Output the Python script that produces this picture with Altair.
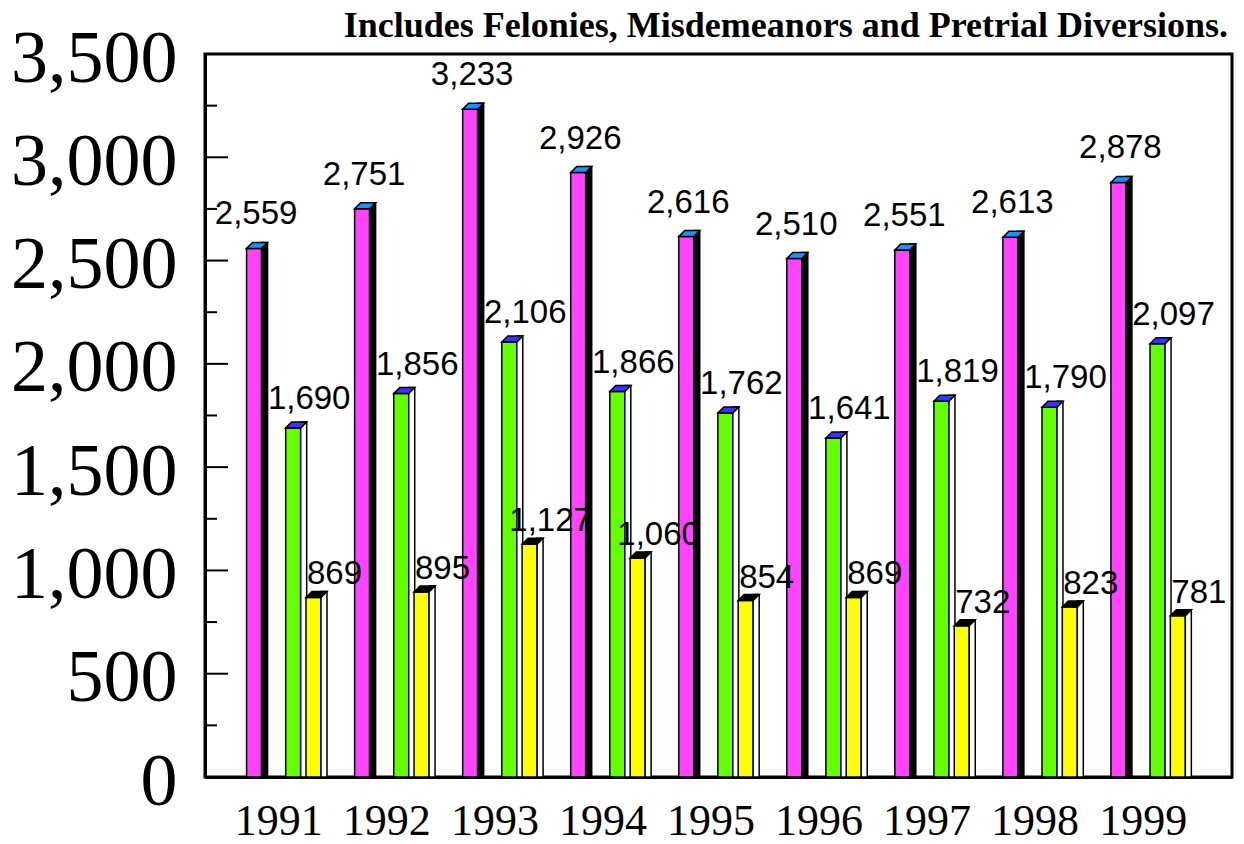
import altair as alt
import pandas as pd

title_text = ["Includes Felonies, Misdemeanors and Pretrial Diversions."]
years = ["1991", "1992", "1993", "1994", "1995", "1996", "1997", "1998", "1999"]
series = ["Series A", "Series B", "Series C"]
values_a = [2559, 2751, 3233, 2926, 2616, 2510, 2551, 2613, 2878]
values_b = [1690, 1856, 2106, 1866, 1762, 1641, 1819, 1790, 2097]
values_c = [869, 895, 1127, 1060, 854, 869, 732, 823, 781]
major_ticks = [500, 1000, 1500, 2000, 2500, 3000]
minor_ticks = [250, 750, 1250, 1750, 2250, 2750, 3250]
y_axis_values = [0, 500, 1000, 1500, 2000, 2500, 3000, 3500]

# styles
front_col = {"Series A": "#FF44FF", "Series B": "#66FF00", "Series C": "#FFFF00"}
top_col = {"Series A": "#1E90FF", "Series B": "#3535FF", "Series C": "#000000"}
side_col = {"Series A": "#000000", "Series B": "#FFFFFF", "Series C": "#FFFFFF"}
slot = {"Series A": -0.252, "Series B": 0.110, "Series C": 0.298}
lab_dx = {"Series A": 2, "Series B": 16, "Series C": 21}
lab_dy = {"Series A": -24, "Series B": -19, "Series C": -13}

rows = []
for s, vals in zip(series, [values_a, values_b, values_c]):
    for i, (y, v) in enumerate(zip(years, vals)):
        rows.append({"year": y, "idx": i, "series": s, "value": v})
df = pd.DataFrame(rows)
df["xpos"] = df["idx"] + df["series"].map(slot)

W, H = 1027, 723
xscale = alt.Scale(domain=[-0.660, 8.753], nice=False, zero=False)
yscale = alt.Scale(domain=[0, 3500], nice=False)

label_expr = "[" + ",".join("'%s'" % y for y in years) + "][datum.value]"
x_axis = alt.Axis(values=list(range(len(years))), labelExpr=label_expr, title=None,
                  ticks=False, tickSize=0, grid=False, labelFont="Liberation Serif",
                  labelFontSize=44, labelColor="black", labelBaseline="alphabetic",
                  labelPadding=57, labelOffset=-3, labelFlush=False, labelBound=False,
                  labelOverlap=False, domainColor="black", domainWidth=3)
y_axis = alt.Axis(values=y_axis_values, format=",d", title=None, ticks=False, tickSize=0,
                  grid=False, labelFont="Liberation Serif", labelFontSize=74,
                  labelColor="black", labelBaseline="alphabetic", labelOffset=27,
                  labelPadding=28, labelFlush=False, labelBound=False, labelOverlap=False,
                  domainColor="black", domainWidth=3)

base = alt.Chart(df)
layers = []
top_path = "M-0.75,0L-0.15,-0.6L1.35,-0.6L0.75,0Z"
for s in series:
    b = base.transform_filter(alt.datum.series == s)
    front = b.mark_bar(width=15, orient="vertical", fill=front_col[s], stroke="black",
                       strokeWidth=1.5).encode(
        x=alt.X("xpos:Q", scale=xscale, axis=x_axis),
        y=alt.Y("value:Q", scale=yscale, axis=y_axis, stack=None),
    )
    side = b.mark_bar(width=6, xOffset=10.5, yOffset=-6, orient="vertical",
                      fill=side_col[s], stroke="black", strokeWidth=1.5).encode(
        x=alt.X("xpos:Q", scale=xscale),
        y=alt.Y("value:Q", scale=yscale, stack=None),
    )
    top = b.mark_point(shape=top_path, size=400, filled=True, fill=top_col[s],
                       stroke="black", strokeWidth=1.5, opacity=1).encode(
        x=alt.X("xpos:Q", scale=xscale),
        y=alt.Y("value:Q", scale=yscale),
    )
    layers += [front, side, top]

for s in series:
    b = base.transform_filter(alt.datum.series == s)
    lab = b.mark_text(font="Liberation Sans", fontSize=33, color="black",
                      align="center", baseline="alphabetic",
                      dx=lab_dx[s], dy=lab_dy[s]).encode(
        x=alt.X("xpos:Q", scale=xscale),
        y=alt.Y("value:Q", scale=yscale),
        text=alt.Text("value:Q", format=",d"),
    )
    layers.append(lab)

ticks_major = alt.Chart(pd.DataFrame({"t": major_ticks})).mark_rule(
    color="black", strokeWidth=2).encode(
    y=alt.Y("t:Q", scale=yscale), x=alt.value(0), x2=alt.value(23))
ticks_minor = alt.Chart(pd.DataFrame({"t": minor_ticks})).mark_rule(
    color="black", strokeWidth=2).encode(
    y=alt.Y("t:Q", scale=yscale), x=alt.value(0), x2=alt.value(12))

title = alt.Chart(pd.DataFrame({"t": title_text})).mark_text(
    font="Liberation Serif", fontSize=36, fontWeight="bold", color="black",
    align="right", baseline="alphabetic").encode(
    text="t:N", x=alt.value(W - 4), y=alt.value(-17))

chart = alt.layer(ticks_major, ticks_minor, *layers, title).properties(
    width=W, height=H,
    autosize=alt.AutoSizeParams(type="none"),
    padding={"left": 197, "top": 46, "right": 4, "bottom": 66},
).configure(background="white").configure_view(stroke="black", strokeWidth=3)

chart.save("out.html", embed_options={"renderer": "svg", "actions": False})
